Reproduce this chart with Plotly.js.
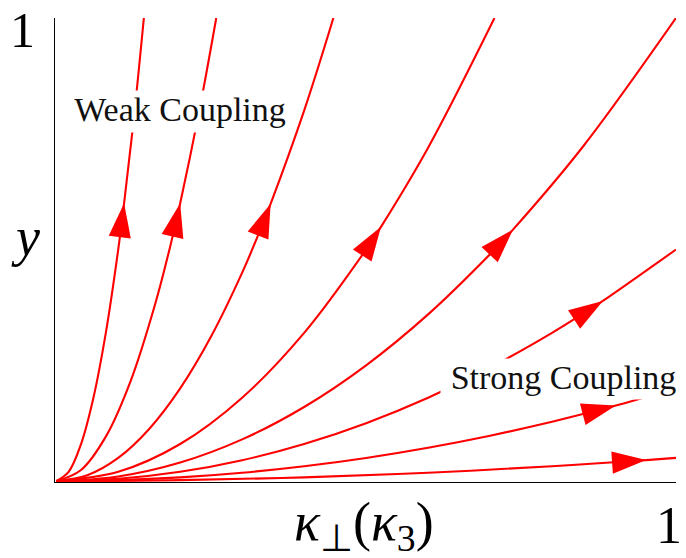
<!DOCTYPE html>
<html>
<head>
<meta charset="utf-8">
<script src="https://cdn.plot.ly/plotly-3.0.1.min.js"></script>
<style>
  html, body { margin: 0; padding: 0; background: #ffffff; }
  #chart { width: 686px; height: 558px; }
</style>
</head>
<body>
<div id="chart"></div>
<script>
// RG flow lines leaving the origin, from weak coupling (steep) to strong coupling (flat)
const flow1X = [0, 0.02, 0.04, 0.06, 0.08, 0.0995, 0.1095, 0.125, 0.1414];
const flow1Y = [0, 0.02, 0.08, 0.18, 0.32, 0.495, 0.600, 0.781, 1.0];

const flow2X = [0, 0.04, 0.08, 0.12, 0.16, 0.185, 0.2, 0.23, 0.2582];
const flow2Y = [0, 0.024, 0.096, 0.216, 0.384, 0.513, 0.600, 0.794, 1.0];

const flow3X = [0, 0.05, 0.1, 0.15, 0.2, 0.25, 0.3, 0.33, 0.346, 0.4, 0.4472];
const flow3Y = [0, 0.0125, 0.05, 0.1125, 0.2, 0.3125, 0.45, 0.545, 0.599, 0.8, 1.0];

const flow4X = [0, 0.1, 0.2, 0.3, 0.4, 0.5, 0.524, 0.6, 0.7071];
const flow4Y = [0, 0.02, 0.08, 0.18, 0.32, 0.5, 0.549, 0.72, 1.0];

const flow5X = [0, 0.1, 0.2, 0.3, 0.4, 0.5, 0.6, 0.7, 0.737, 0.85, 1.0];
const flow5Y = [0, 0.01, 0.04, 0.09, 0.16, 0.25, 0.36, 0.49, 0.543, 0.7225, 1.0];

const flow6X = [0, 0.1, 0.2, 0.3, 0.4, 0.5, 0.6, 0.7, 0.8, 0.86, 0.882, 1.0];
const flow6Y = [0, 0.005, 0.02, 0.045, 0.08, 0.125, 0.18, 0.245, 0.32, 0.37, 0.389, 0.5];

const flow7X = [0, 0.1, 0.2, 0.3, 0.4, 0.5, 0.6, 0.7, 0.8, 0.88, 0.903, 1.0];
const flow7Y = [0, 0.002, 0.008, 0.018, 0.032, 0.05, 0.072, 0.098, 0.128, 0.155, 0.163, 0.2];

const flow8X = [0, 0.2, 0.4, 0.6, 0.8, 0.93, 0.952, 1.0];
const flow8Y = [0, 0.002, 0.008, 0.018, 0.032, 0.0432, 0.0453, 0.05];

// index of the point on each flow line that carries the arrowhead
const arrowAt = [6, 6, 8, 6, 8, 10, 10, 6];

const flowsX = [flow1X, flow2X, flow3X, flow4X, flow5X, flow6X, flow7X, flow8X];
const flowsY = [flow1Y, flow2Y, flow3Y, flow4Y, flow5Y, flow6Y, flow7Y, flow8Y];

const RED = '#ff0000';
const HEAD = 36;

const traces = flowsX.map((xs, k) => ({
  type: 'scatter',
  mode: 'lines+markers',
  x: xs,
  y: flowsY[k],
  line: { color: RED, width: 2.1, shape: 'spline', smoothing: 1, backoff: 0 },
  marker: {
    symbol: 'arrow',
    angleref: 'previous',
    color: RED,
    opacity: 1,
    size: xs.map((_, i) => (i === arrowAt[k] ? HEAD : 0)),
    line: { width: 0 }
  },
  hoverinfo: 'skip',
  showlegend: false
}));

const SERIF = 'Liberation Serif, Times New Roman, serif';

const layout = {
  width: 686,
  height: 558,
  margin: { l: 55, r: 10, t: 18, b: 76, pad: 0 },
  paper_bgcolor: '#ffffff',
  plot_bgcolor: '#ffffff',
  showlegend: false,
  xaxis: {
    range: [-0.002, 1],
    showgrid: false, zeroline: false, showticklabels: false, ticks: '',
    showline: true, linecolor: '#000000', linewidth: 1.3,
    layer: 'below traces', fixedrange: true
  },
  yaxis: {
    range: [-0.002, 1],
    showgrid: false, zeroline: false, showticklabels: false, ticks: '',
    showline: true, linecolor: '#000000', linewidth: 1.3,
    layer: 'below traces', fixedrange: true
  },
  annotations: [
    { xref: 'paper', yref: 'paper', x: -0.0523, y: 1.0388, xanchor: 'center', yanchor: 'top',
      text: '1', showarrow: false, font: { family: SERIF, size: 50, color: '#000000' } },
    { xref: 'paper', yref: 'paper', x: 0.9887, y: -0.0927, xanchor: 'center', yanchor: 'middle',
      text: '1', showarrow: false, font: { family: SERIF, size: 52, color: '#000000' } },
    { xref: 'paper', yref: 'paper', x: -0.048, y: 0.528, xanchor: 'center', yanchor: 'middle',
      text: '<i>y</i>', showarrow: false, font: { family: SERIF, size: 54, color: '#000000' } },
    { xref: 'paper', yref: 'paper', x: 0.497, y: -0.0948, xanchor: 'center', yanchor: 'middle',
      text: '<i>κ</i><sub>⊥</sub>(<i>κ</i><sub>3</sub>)', showarrow: false,
      font: { family: SERIF, size: 54, color: '#000000' } },
    { xref: 'paper', yref: 'paper', x: 0.2013, y: 0.8448, xanchor: 'center', yanchor: 'top',
      width: 228, height: 41, valign: 'top', align: 'center', borderpad: 0,
      bgcolor: '#ffffff', text: 'Weak Coupling', showarrow: false,
      font: { family: SERIF, size: 34, color: '#111111' } },
    { xref: 'paper', yref: 'paper', x: 0.8188, y: 0.2672, xanchor: 'center', yanchor: 'top',
      width: 245, height: 40, valign: 'top', align: 'center', borderpad: 0,
      bgcolor: '#ffffff', text: 'Strong Coupling', showarrow: false,
      font: { family: SERIF, size: 34, color: '#111111' } }
  ]
};

Plotly.newPlot('chart', traces, layout, { staticPlot: true, displayModeBar: false });
</script>
</body>
</html>
